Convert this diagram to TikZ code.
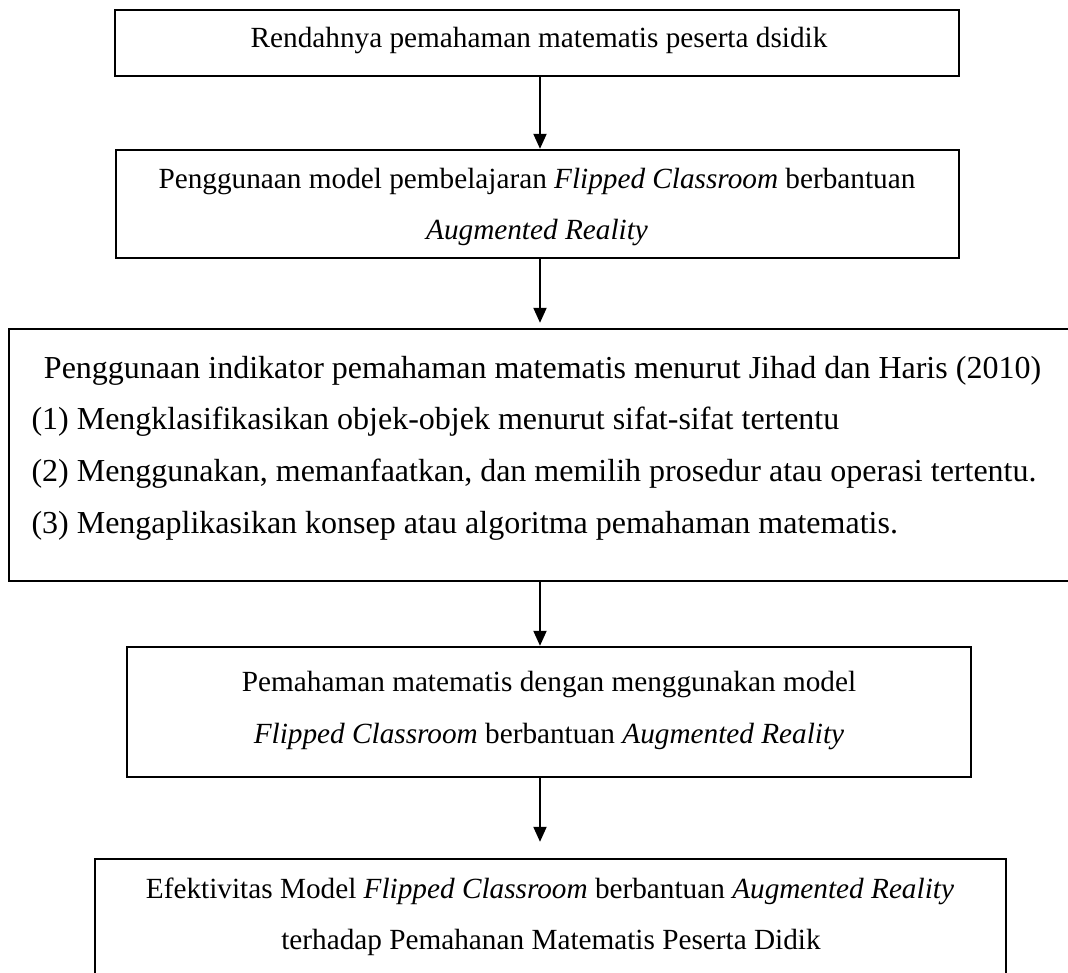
\documentclass[tikz,border=0pt]{standalone}
\usepackage{fontspec}
\setmainfont{Liberation Serif}
\usetikzlibrary{arrows.meta}
\begin{document}
\begin{tikzpicture}[x=0.4pt,y=-0.4pt,
  box/.style={draw=black,line width=0.95pt,rectangle,inner sep=0pt},
  txt/.style={inner sep=0pt,font=\fontsize{11.7pt}{14pt}\selectfont},
  bigtxt/.style={inner sep=0pt,font=\fontsize{12.8pt}{15pt}\selectfont},
  arr/.style={line width=0.8pt,-{Triangle[length=6pt,width=5.2pt]}}]
\useasboundingbox (0,0) rectangle (1068,973);
\clip (0,0) rectangle (1068,973);
\coordinate (ax) at (540,0);
% boxes
\node[box,minimum width=844*0.4pt,minimum height=66*0.4pt] (b1) at (537,43) {};
\node[box,minimum width=843*0.4pt,minimum height=108*0.4pt] (b2) at (537.5,204) {};
\node[box,minimum width=1081*0.4pt,minimum height=252*0.4pt] (b3) at (549.5,455) {};
\node[box,minimum width=844*0.4pt,minimum height=130*0.4pt] (b4) at (549,712) {};
\node[box,minimum width=911*0.4pt,minimum height=160*0.4pt] (b5) at (550.5,939) {};
% texts
\node[txt,anchor=base] (t1) at (539,47) {Rendahnya pemahaman matematis peserta dsidik};
\node[txt,anchor=base] (t2a) at (537,188) {Penggunaan model pembelajaran \textit{Flipped Classroom} berbantuan};
\node[txt,anchor=base] (t2b) at (537,239) {\textit{Augmented Reality}};
\node[bigtxt,anchor=base] (t3a) at (542.5,378) {Penggunaan indikator pemahaman matematis menurut Jihad dan Haris (2010)};
\node[bigtxt,anchor=base west] (t3b) at (31,429) {(1) Mengklasifikasikan objek-objek menurut sifat-sifat tertentu};
\node[bigtxt,anchor=base west] (t3c) at (31,481) {(2) Menggunakan, memanfaatkan, dan memilih prosedur atau operasi tertentu.};
\node[bigtxt,anchor=base west] (t3d) at (31,533) {(3) Mengaplikasikan konsep atau algoritma pemahaman matematis.};
\node[txt,anchor=base] (t4a) at (549,691) {Pemahaman matematis dengan menggunakan model};
\node[txt,anchor=base] (t4b) at (549,743) {\textit{Flipped Classroom} berbantuan \textit{Augmented Reality}};
\node[txt,anchor=base] (t5a) at (550,898) {Efektivitas Model \textit{Flipped Classroom} berbantuan \textit{Augmented Reality}};
\node[txt,anchor=base] (t5b) at (551,949) {terhadap Pemahanan Matematis Peserta Didik};
% arrows
\draw[arr] (b1.south -| ax) -- (b2.north -| ax);
\draw[arr,shorten >=2pt] (b2.south -| ax) -- (b3.north -| ax);
\draw[arr] (b3.south -| ax) -- (b4.north -| ax);
\draw[arr,shorten >=6.4pt] (b4.south -| ax) -- (b5.north -| ax);
\end{tikzpicture}
\end{document}
